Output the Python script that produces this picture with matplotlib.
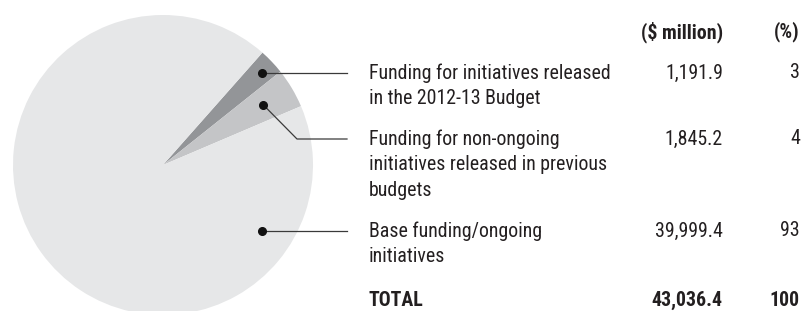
import matplotlib
matplotlib.use('Agg')
import matplotlib.pyplot as plt
import numpy as np

plt.rcParams['font.family'] = ['Roboto Condensed', 'DejaVu Sans']

labels = [['Funding for initiatives released', 'in the 2012-13 Budget'],
          ['Funding for non-ongoing', 'initiatives released in previous', 'budgets'],
          ['Base funding/ongoing', 'initiatives']]
values = [1191.9, 1845.2, 39999.4]
value_text = ['1,191.9', '1,845.2', '39,999.4']
pct_text = ['3', '4', '93']
total_text = ['43,036.4', '100']
colors = ['#939598', '#c4c5c7', '#e6e7e8']
ink = '#231f20'

W, H = 803, 311
fig = plt.figure(figsize=(W / 100, H / 100), dpi=100)
ax = fig.add_axes([0, 0, 1, 1])

cx, cy, R = 163, H - 165, 150
start = 48.5
wedges, _ = ax.pie(values, colors=colors, startangle=start, counterclock=False,
                   center=(cx, cy), radius=R, frame=True,
                   wedgeprops=dict(linewidth=0))
ax.set_xlim(0, W)
ax.set_ylim(0, H)
ax.set_aspect('equal')
ax.axis('off')

def py(y):
    return H - y

# text block
fs = 14.3
x_lab, x_val, x_pct = 369, 723, 800
ax.text(x_val, py(32), '($ million)', ha='right', va='center', fontsize=fs,
        fontweight='bold', color=ink)
ax.text(x_pct, py(32), '(%)', ha='right', va='center', fontsize=fs,
        fontweight='bold', color=ink)

row_y = [73, 139, 231]
line_gap = 26
for i, lines in enumerate(labels):
    for j, s in enumerate(lines):
        ax.text(x_lab, py(row_y[i] + j * line_gap), s, ha='left', va='center',
                fontsize=fs, color=ink)
    ax.text(x_val, py(row_y[i]), value_text[i], ha='right', va='center',
            fontsize=fs, color=ink)
    ax.text(x_pct, py(row_y[i]), pct_text[i], ha='right', va='center',
            fontsize=fs, color=ink)

ax.text(x_lab, py(300), 'TOTAL', ha='left', va='center', fontsize=fs,
        fontweight='bold', color=ink)
ax.text(x_val, py(300), total_text[0], ha='right', va='center', fontsize=fs,
        fontweight='bold', color=ink)
ax.text(x_pct, py(300), total_text[1], ha='right', va='center', fontsize=fs,
        fontweight='bold', color=ink)

# leader lines with dots
x_end = 347
dots = []
for i, w in enumerate(wedges[:2]):
    mid = np.deg2rad((w.theta1 + w.theta2) / 2)
    r = [136, 117][i]
    dots.append((cx + r * np.cos(mid), cy + r * np.sin(mid)))
dots.append((262, py(231)))

lc = '#3a3a3a'
for i, (dx, dy) in enumerate(dots):
    ty = py(row_y[i])
    if abs(dy - ty) > 3:
        elbow = 297
        ax.plot([dx, elbow, x_end], [dy, ty, ty], color=lc, lw=0.9)
    else:
        ax.plot([dx, x_end], [ty, ty], color=lc, lw=0.9)
        dy = ty
    ax.plot(dx, dy, 'o', color='#111111', ms=5.5)

fig.savefig('out.png', dpi=100)
